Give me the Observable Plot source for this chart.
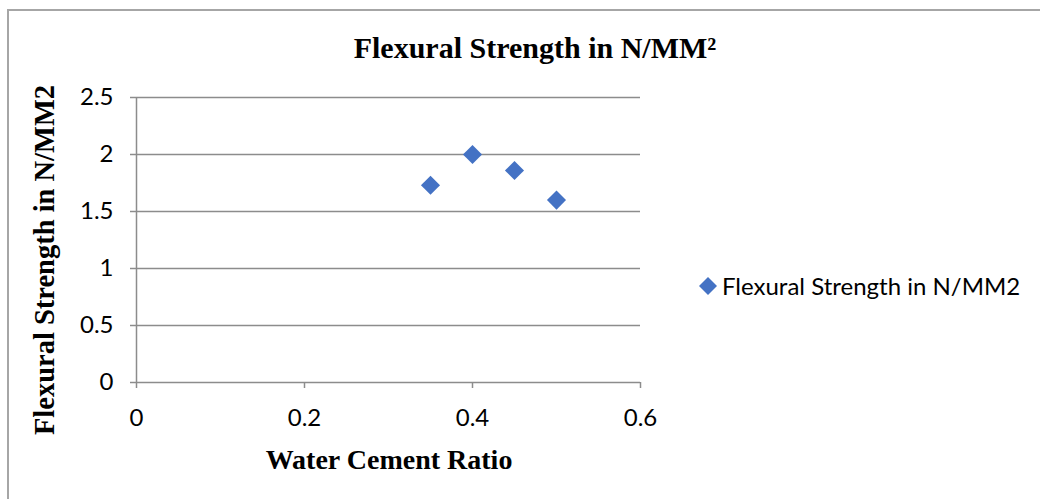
<!DOCTYPE html>
<html>
<head>
<meta charset="utf-8">
<script src="https://cdn.jsdelivr.net/npm/d3@7"></script>
<script src="https://cdn.jsdelivr.net/npm/@observablehq/plot@0.6"></script>
<style>
  html, body { margin: 0; padding: 0; background: #fff; }
  #wrap { position: relative; width: 1040px; height: 499px; overflow: hidden; }
  #frame { position: absolute; left: 7px; top: 9px; width: 1100px; height: 600px; border: 2px solid #a6a6a6; box-sizing: border-box; }
  #chart { position: absolute; left: 0; top: 0; }
  .serif { font-family: "Liberation Serif", "DejaVu Serif", serif; font-weight: bold; color: #000; position: absolute; white-space: nowrap; line-height: 1; }
  #title { left: 535px; top: 48px; transform: translate(-50%, -50%); font-size: 30px; }
  #xlab { left: 389px; top: 460px; transform: translate(-50%, -50%); font-size: 28px; }
  #ylab { left: 45px; top: 260px; transform: translate(-50%, -50%) rotate(-90deg); font-size: 28.5px; }
  #legend { position: absolute; left: 698px; top: 286px; transform: translateY(-50%); font-family: Lato, "Open Sans", sans-serif; font-size: 24px; color: #000; display: flex; align-items: center; white-space: nowrap; line-height: 1; }
  #legend svg { margin-right: 4px; }
</style>
</head>
<body>
<div id="wrap">
  <div id="frame"></div>
  <div id="chart"></div>
  <div id="title" class="serif">Flexural Strength in N/MM²</div>
  <div id="xlab" class="serif">Water Cement Ratio</div>
  <div id="ylab" class="serif">Flexural Strength in N/MM2</div>
  <div id="legend"><svg width="20" height="20"><path d="M10,1 L19,10 L10,19 L1,10 Z" fill="#4472C4"/></svg><span>Flexural Strength in N/MM2</span></div>
</div>
<script>
const ratios = [0.35, 0.40, 0.45, 0.50];
const strengths = [1.73, 2.00, 1.86, 1.60];
const xTicks = [0, 0.2, 0.4, 0.6];
const yTicks = [0, 0.5, 1, 1.5, 2, 2.5];
const seriesName = "Flexural Strength in N/MM2";

const data = ratios.map((r, i) => ({ratio: r, strength: strengths[i], series: seriesName}));

const gridColor = "#8c8c8c";

const chart = Plot.plot({
  width: 1040,
  height: 499,
  marginLeft: 136,
  marginRight: 400,
  marginTop: 97,
  marginBottom: 117,
  style: { fontFamily: "Lato, 'Open Sans', sans-serif", fontSize: "24px", color: "#000", background: "transparent" },
  x: { domain: [0, 0.6], ticks: xTicks },
  y: { domain: [0, 2.5], ticks: yTicks },
  marks: [
    Plot.ruleY(yTicks, { stroke: gridColor, strokeWidth: 1.5, strokeOpacity: 1 }),
    Plot.ruleX([0], { stroke: gridColor, strokeWidth: 1.5, strokeOpacity: 1 }),
    Plot.axisY({ ticks: yTicks, tickSize: 6, tickPadding: 17, stroke: gridColor, strokeWidth: 1.5, strokeOpacity: 1, label: null, tickFormat: d => String(d), fontSize: 24 }),
    Plot.axisX({ ticks: xTicks, tickSize: 6, tickPadding: 20, stroke: gridColor, strokeWidth: 1.5, strokeOpacity: 1, label: null, tickFormat: d => String(d), fontSize: 24 }),
    Plot.dot(data, { x: "ratio", y: "strength", symbol: "diamond2", r: 8.6, fill: "#4472C4", stroke: "none" })
  ]
});
document.getElementById("chart").appendChild(chart);
</script>
</body>
</html>
